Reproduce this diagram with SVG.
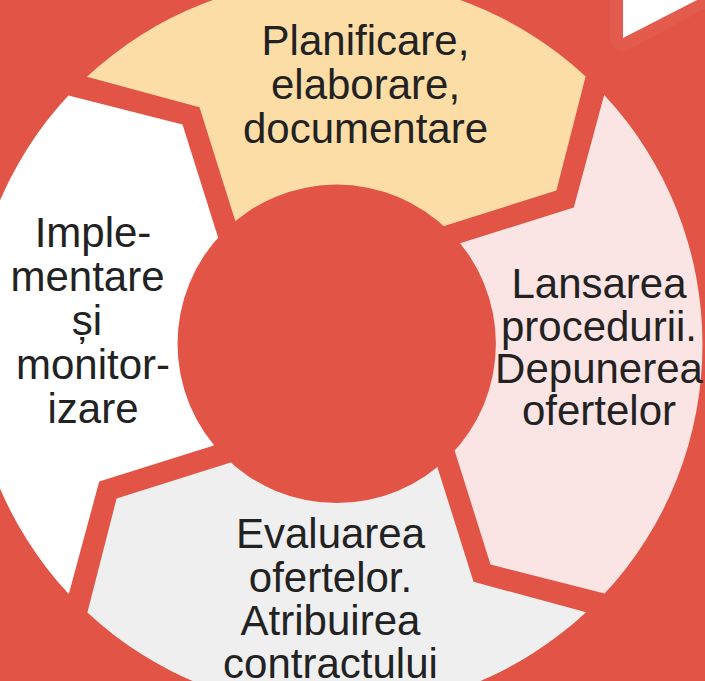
<svg xmlns="http://www.w3.org/2000/svg" width="705" height="681" viewBox="0 0 705 681">
  <style>
    .lbl { font-family: "Liberation Sans", Arial, sans-serif; font-size: 42px; fill: #222222; text-anchor: middle; }
  </style>
  <defs>
    <path id="seg" d="M 86.9 76.8 L 199.5 107.2 L 252.8 276.6 L 336.5 344.5 L 386.1 244.2 L 556.4 190.5 L 585.6 76.4 A 366 366 0 0 0 86.9 76.8 Z"/>
  </defs>
  <rect x="0" y="0" width="705" height="681" fill="#E25546"/>
  <g id="corner">
    <polygon points="623,-10 623,38 697,-2" fill="none" stroke="#E35B4C" stroke-width="26" stroke-linejoin="round"/>
    <polygon points="623,0 623,38 697,0" fill="#FFFFFF"/>
  </g>
  <g id="node-planificare">
    <use href="#seg" fill="#FDDDA6"/>
    <text class="lbl" x="365.5" y="55">Planificare,</text>
    <text class="lbl" x="365.5" y="99">elaborare,</text>
    <text class="lbl" x="365.5" y="142.5">documentare</text>
  </g>
  <g id="node-lansarea">
    <use href="#seg" fill="#FAE4E4" transform="rotate(90 336.5 344.5)"/>
    <text class="lbl" x="599" y="298">Lansarea</text>
    <text class="lbl" x="599" y="340.5">procedurii.</text>
    <text class="lbl" x="599" y="383">Depunerea</text>
    <text class="lbl" x="599" y="425">ofertelor</text>
  </g>
  <g id="node-evaluarea">
    <use href="#seg" fill="#EFEFEF" transform="rotate(180 336.5 344.5)"/>
    <text class="lbl" x="330.5" y="548">Evaluarea</text>
    <text class="lbl" x="330.5" y="591.5">ofertelor.</text>
    <text class="lbl" x="330.5" y="635">Atribuirea</text>
    <text class="lbl" x="330.5" y="678">contractului</text>
  </g>
  <g id="node-implementare">
    <use href="#seg" fill="#FFFFFF" transform="rotate(270 336.5 344.5)"/>
    <text class="lbl" x="93" y="247">Imple-</text>
    <text class="lbl" x="87.5" y="291">mentare</text>
    <text class="lbl" x="87" y="335">și</text>
    <text class="lbl" x="93" y="379">monitor-</text>
    <text class="lbl" x="93" y="423">izare</text>
  </g>
  <g id="node-center">
    <circle cx="336.7" cy="343.8" r="159.2" fill="#E25546"/>
  </g>
</svg>
